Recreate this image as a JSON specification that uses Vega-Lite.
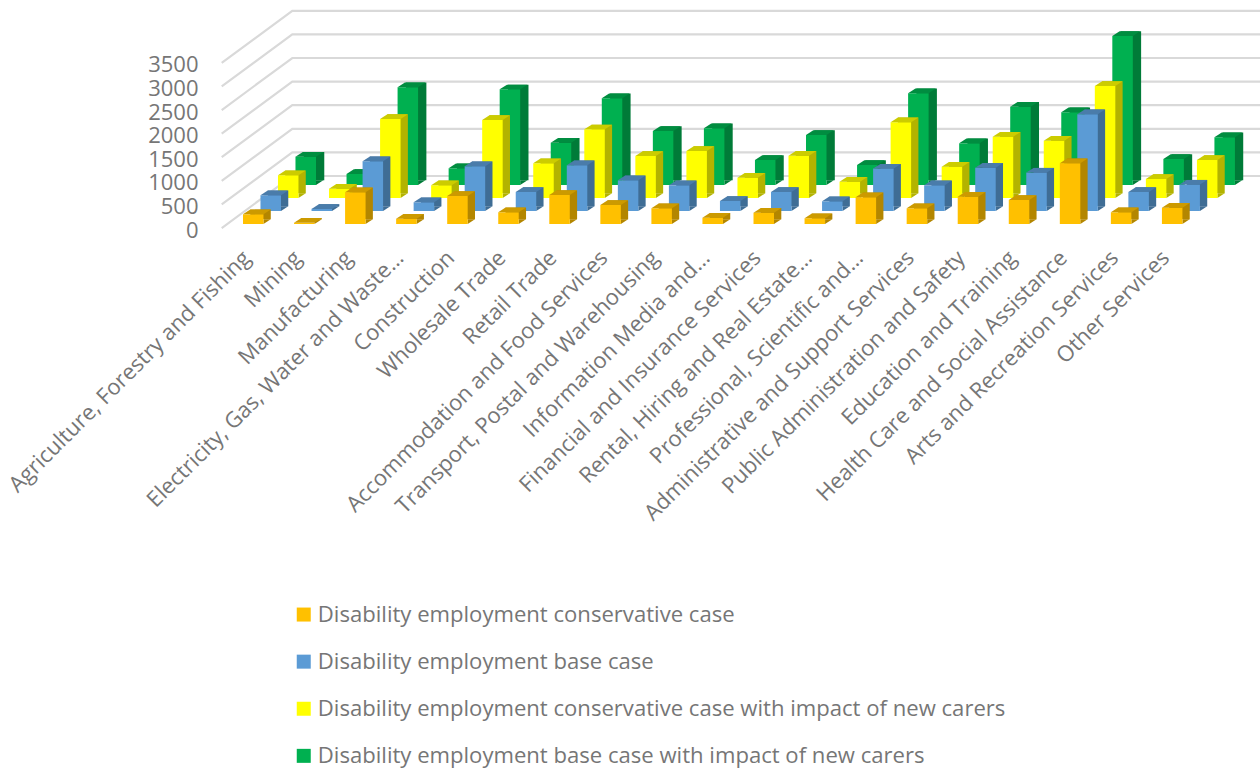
{"$schema":"https://vega.github.io/schema/vega-lite/v6.json","width":970,"height":224,"autosize":"none","padding":{"left":227.7,"top":0,"right":62.3,"bottom":545},"background":"white","config":{"view":{"stroke":null},"font":"Open Sans","axisY":{"labelOverlap":false},"axisQuantitative":{"labelOverlap":false}},
"datasets":{"bars":[
{"industry":"Agriculture, Forestry and Fishing","series":"c","value":205},{"industry":"Agriculture, Forestry and Fishing","series":"b","value":333},{"industry":"Agriculture, Forestry and Fishing","series":"cc","value":481},{"industry":"Agriculture, Forestry and Fishing","series":"bc","value":600},
{"industry":"Mining","series":"c","value":25},{"industry":"Mining","series":"b","value":45},{"industry":"Mining","series":"cc","value":197},{"industry":"Mining","series":"bc","value":233},
{"industry":"Manufacturing","series":"c","value":672},{"industry":"Manufacturing","series":"b","value":1053},{"industry":"Manufacturing","series":"cc","value":1674},{"industry":"Manufacturing","series":"bc","value":2070},
{"industry":"Electricity, Gas, Water and Waste…","series":"c","value":112},{"industry":"Electricity, Gas, Water and Waste…","series":"b","value":184},{"industry":"Electricity, Gas, Water and Waste…","series":"cc","value":269},{"industry":"Electricity, Gas, Water and Waste…","series":"bc","value":354},
{"industry":"Construction","series":"c","value":593},{"industry":"Construction","series":"b","value":947},{"industry":"Construction","series":"cc","value":1653},{"industry":"Construction","series":"bc","value":2027},
{"industry":"Wholesale Trade","series":"c","value":248},{"industry":"Wholesale Trade","series":"b","value":403},{"industry":"Wholesale Trade","series":"cc","value":735},{"industry":"Wholesale Trade","series":"bc","value":896},
{"industry":"Retail Trade","series":"c","value":614},{"industry":"Retail Trade","series":"b","value":968},{"industry":"Retail Trade","series":"cc","value":1455},{"industry":"Retail Trade","series":"bc","value":1837},
{"industry":"Accommodation and Food Services","series":"c","value":403},{"industry":"Accommodation and Food Services","series":"b","value":650},{"industry":"Accommodation and Food Services","series":"cc","value":890},{"industry":"Accommodation and Food Services","series":"bc","value":1144},
{"industry":"Transport, Postal and Warehousing","series":"c","value":333},{"industry":"Transport, Postal and Warehousing","series":"b","value":544},{"industry":"Transport, Postal and Warehousing","series":"cc","value":996},{"industry":"Transport, Postal and Warehousing","series":"bc","value":1201},
{"industry":"Information Media and…","series":"c","value":133},{"industry":"Information Media and…","series":"b","value":212},{"industry":"Information Media and…","series":"cc","value":430},{"industry":"Information Media and…","series":"bc","value":530},
{"industry":"Financial and Insurance Services","series":"c","value":239},{"industry":"Financial and Insurance Services","series":"b","value":403},{"industry":"Financial and Insurance Services","series":"cc","value":896},{"industry":"Financial and Insurance Services","series":"bc","value":1059},
{"industry":"Rental, Hiring and Real Estate…","series":"c","value":121},{"industry":"Rental, Hiring and Real Estate…","series":"b","value":205},{"industry":"Rental, Hiring and Real Estate…","series":"cc","value":345},{"industry":"Rental, Hiring and Real Estate…","series":"bc","value":424},
{"industry":"Professional, Scientific and…","series":"c","value":566},{"industry":"Professional, Scientific and…","series":"b","value":898},{"industry":"Professional, Scientific and…","series":"cc","value":1604},{"industry":"Professional, Scientific and…","series":"bc","value":1943},
{"industry":"Administrative and Support Services","series":"c","value":333},{"industry":"Administrative and Support Services","series":"b","value":544},{"industry":"Administrative and Support Services","series":"cc","value":663},{"industry":"Administrative and Support Services","series":"bc","value":883},
{"industry":"Public Administration and Safety","series":"c","value":578},{"industry":"Public Administration and Safety","series":"b","value":919},{"industry":"Public Administration and Safety","series":"cc","value":1299},{"industry":"Public Administration and Safety","series":"bc","value":1659},
{"industry":"Education and Training","series":"c","value":508},{"industry":"Education and Training","series":"b","value":814},{"industry":"Education and Training","series":"cc","value":1214},{"industry":"Education and Training","series":"bc","value":1540},
{"industry":"Health Care and Social Assistance","series":"c","value":1286},{"industry":"Health Care and Social Assistance","series":"b","value":2049},{"industry":"Health Care and Social Assistance","series":"cc","value":2373},{"industry":"Health Care and Social Assistance","series":"bc","value":3157},
{"industry":"Arts and Recreation Services","series":"c","value":248},{"industry":"Arts and Recreation Services","series":"b","value":403},{"industry":"Arts and Recreation Services","series":"cc","value":403},{"industry":"Arts and Recreation Services","series":"bc","value":551},
{"industry":"Other Services","series":"c","value":345},{"industry":"Other Services","series":"b","value":559},{"industry":"Other Services","series":"cc","value":805},{"industry":"Other Services","series":"bc","value":1011}
],
"walls":[
{"level":0,"wall":-6,"height":-85},{"level":0,"wall":64.6,"height":1017},{"level":0,"wall":1032.3,"height":1017},
{"level":500,"wall":-6,"height":415},{"level":500,"wall":64.6,"height":1517},{"level":500,"wall":1032.3,"height":1517},
{"level":1000,"wall":-6,"height":915},{"level":1000,"wall":64.6,"height":2017},{"level":1000,"wall":1032.3,"height":2017},
{"level":1500,"wall":-6,"height":1415},{"level":1500,"wall":64.6,"height":2517},{"level":1500,"wall":1032.3,"height":2517},
{"level":2000,"wall":-6,"height":1915},{"level":2000,"wall":64.6,"height":3017},{"level":2000,"wall":1032.3,"height":3017},
{"level":2500,"wall":-6,"height":2415},{"level":2500,"wall":64.6,"height":3517},{"level":2500,"wall":1032.3,"height":3517},
{"level":3000,"wall":-6,"height":2915},{"level":3000,"wall":64.6,"height":4017},{"level":3000,"wall":1032.3,"height":4017},
{"level":3500,"wall":-6,"height":3415},{"level":3500,"wall":64.6,"height":4517},{"level":3500,"wall":1032.3,"height":4517}
]},
"resolve":{"scale":{"x":"independent"}},
"layer":[
{"data":{"name":"walls"},"mark":{"type":"line","color":"#d9d9d9","strokeWidth":2.2,"clip":false},"encoding":{"x":{"field":"wall","type":"quantitative","sort":null,"scale":{"domain":[0,970],"nice":false,"zero":false},"axis":null},"y":{"field":"height","type":"quantitative","title":null,"scale":{"domain":[0,4746],"nice":false},"axis":{"values":[0,500,1000,1500,2000,2500,3000,3500],"format":"d","labelOverlap":false,"labelBound":false,"title":null,"grid":false,"domain":false,"ticks":false,"labelPadding":29.7,"labelOffset":6,"labelFontSize":22,"labelColor":"#767676","labelFont":"Open Sans"}},"detail":{"field":"level"},"order":{"field":"wall"}}},
{"data":{"name":"bars"},"encoding":{"x":{"field":"industry","type":"nominal","sort":null,"scale":{"paddingInner":0,"paddingOuter":0}},"y":{"field":"value","type":"quantitative","title":null,"axis":{"values":[0,500,1000,1500,2000,2500,3000,3500],"format":"d","labelOverlap":false,"labelBound":false,"title":null,"grid":false,"domain":false,"ticks":false,"labelPadding":29.7,"labelOffset":6,"labelFontSize":22,"labelColor":"#767676","labelFont":"Open Sans"}}},
"layer":[
{"transform":[{"filter":"datum.series==='bc'"}],"mark":{"type":"bar","size":20.5,"color":"#007B38","xOffset":60.8,"yOffset":-43.7,"y2Offset":-43.7},"encoding":{}},
{"transform":[{"filter":"datum.series==='bc'"}],"mark":{"type":"point","shape":"M1.025,0L1.755,-0.47L1.025,-0.47Z","size":400,"filled":true,"opacity":1,"color":"#007B38","xOffset":52.5,"yOffset":-39},"encoding":{"y":{"datum":0}}},
{"transform":[{"filter":"datum.series==='bc'"}],"mark":{"type":"bar","size":20.5,"xOffset":52.5,"yOffset":-39,"y2Offset":-39},"encoding":{"color":{"field":"series","type":"nominal","scale":{"domain":["c","b","cc","bc"],"range":["#FFC000","#5B9BD5","#FFFF00","#00B050"]},"legend":{"orient":"none","legendX":65,"legendY":603.5,"title":null,"symbolType":"square","symbolSize":196,"symbolStrokeWidth":0,"labelFontSize":22.1,"labelColor":"#767676","labelFont":"Open Sans","labelLimit":800,"rowPadding":24.1,"labelOffset":3,"labelExpr":"{'c':'Disability employment conservative case','b':'Disability employment base case','cc':'Disability employment conservative case with impact of new carers','bc':'Disability employment base case with impact of new carers'}[datum.label]"}}}},
{"transform":[{"filter":"datum.series==='bc'"}],"mark":{"type":"point","shape":"M-1.025,0L1.025,0L1.755,-0.47L-0.295,-0.47Z","size":400,"filled":true,"opacity":1,"color":"#008D40","xOffset":52.5,"yOffset":-39},"encoding":{}},

{"transform":[{"filter":"datum.series==='cc'"}],"mark":{"type":"bar","size":20.5,"color":"#B3B300","xOffset":42.3,"yOffset":-30.7,"y2Offset":-30.7},"encoding":{}},
{"transform":[{"filter":"datum.series==='cc'"}],"mark":{"type":"point","shape":"M1.025,0L1.755,-0.47L1.025,-0.47Z","size":400,"filled":true,"opacity":1,"color":"#B3B300","xOffset":35,"yOffset":-26},"encoding":{"y":{"datum":0}}},
{"transform":[{"filter":"datum.series==='cc'"}],"mark":{"type":"bar","size":20.5,"xOffset":35,"yOffset":-26,"y2Offset":-26},"encoding":{"color":{"field":"series","type":"nominal"}}},
{"transform":[{"filter":"datum.series==='cc'"}],"mark":{"type":"point","shape":"M-1.025,0L1.025,0L1.755,-0.47L-0.295,-0.47Z","size":400,"filled":true,"opacity":1,"color":"#CCCC00","xOffset":35,"yOffset":-26},"encoding":{}},

{"transform":[{"filter":"datum.series==='b'"}],"mark":{"type":"bar","size":20.5,"color":"#3F6D95","xOffset":24.8,"yOffset":-17.7,"y2Offset":-17.7},"encoding":{}},
{"transform":[{"filter":"datum.series==='b'"}],"mark":{"type":"point","shape":"M1.025,0L1.755,-0.47L1.025,-0.47Z","size":400,"filled":true,"opacity":1,"color":"#3F6D95","xOffset":17.5,"yOffset":-13},"encoding":{"y":{"datum":0}}},
{"transform":[{"filter":"datum.series==='b'"}],"mark":{"type":"bar","size":20.5,"xOffset":17.5,"yOffset":-13,"y2Offset":-13},"encoding":{"color":{"field":"series","type":"nominal"}}},
{"transform":[{"filter":"datum.series==='b'"}],"mark":{"type":"point","shape":"M-1.025,0L1.025,0L1.755,-0.47L-0.295,-0.47Z","size":400,"filled":true,"opacity":1,"color":"#4A7CAA","xOffset":17.5,"yOffset":-13},"encoding":{}},

{"transform":[{"filter":"datum.series==='c'"}],"mark":{"type":"bar","size":20.5,"color":"#B38600","xOffset":7.3,"yOffset":-4.7,"y2Offset":-4.7},"encoding":{}},
{"transform":[{"filter":"datum.series==='c'"}],"mark":{"type":"point","shape":"M1.025,0L1.755,-0.47L1.025,-0.47Z","size":400,"filled":true,"opacity":1,"color":"#B38600"},"encoding":{"y":{"datum":0}}},
{"transform":[{"filter":"datum.series==='c'"}],"mark":{"type":"bar","size":20.5},"encoding":{"x":{"field":"industry","type":"nominal","sort":null,"title":null,"axis":{"orient":"bottom","title":null,"labelAngle":-45,"labelAlign":"right","labelBaseline":"middle","labelPadding":30,"labelOffset":-6.5,"labelFontSize":22,"labelColor":"#767676","labelFont":"Open Sans","labelLimit":800,"labelOverlap":false,"labelBound":false,"domain":false,"ticks":false,"grid":false}},"color":{"field":"series","type":"nominal"}}},
{"transform":[{"filter":"datum.series==='c'"}],"mark":{"type":"point","shape":"M-1.025,0L1.025,0L1.755,-0.47L-0.295,-0.47Z","size":400,"filled":true,"opacity":1,"color":"#CC9A00"},"encoding":{}}
]}
]}
